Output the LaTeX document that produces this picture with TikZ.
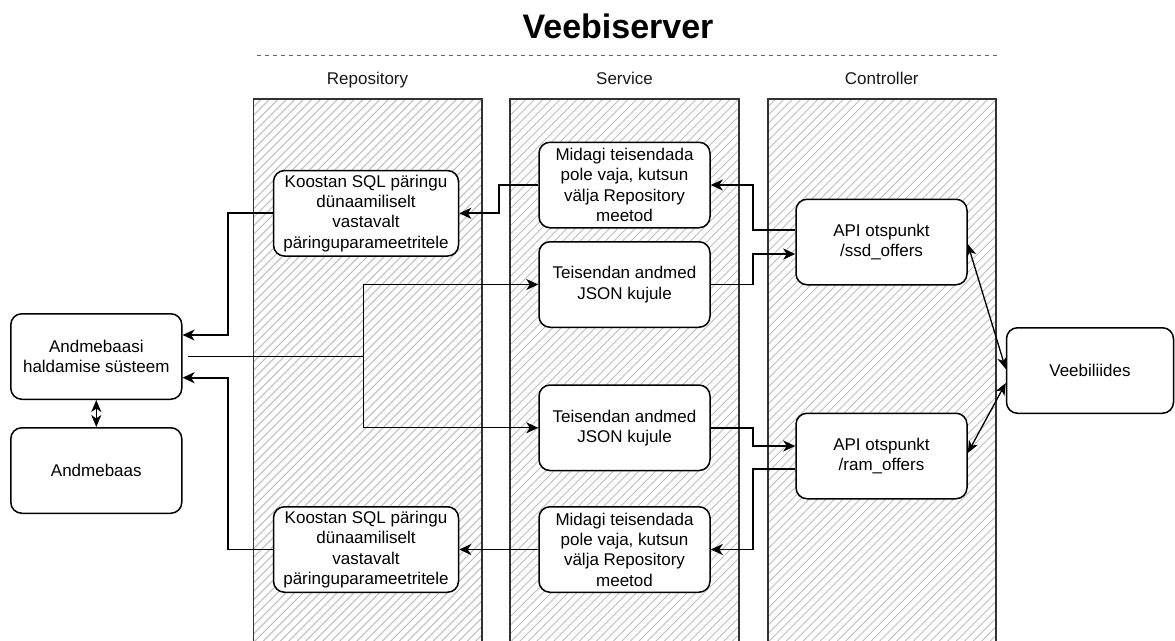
\documentclass[tikz,border=0pt]{standalone}
\usepackage{fontspec}
\setmainfont{Liberation Sans}
\usetikzlibrary{arrows.meta}
\begin{document}
\begin{tikzpicture}[x=1pt,y=-1pt,
  box/.style={draw, line width=1.5pt, rounded corners=11pt, fill=white, align=center, inner sep=0pt,
    minimum width=171pt, minimum height=85.5pt, font=\fontsize{17}{20.3}\selectfont},
  wbox/.style={box, minimum width=185pt},
  conn/.style={line width=1.9pt, -{Stealth[length=12pt,width=11pt,inset=3.5pt]}},
  biarrow/.style={line width=1.3pt, {Stealth[length=12pt,width=10pt,inset=3.5pt]}-{Stealth[length=12pt,width=10pt,inset=3.5pt]}},
  lane/.style={draw=black!80, line width=1.6pt},
  hatch/.style={draw=black!25, line width=1pt},
  lanelabel/.style={anchor=base, font=\fontsize{17}{20.3}\selectfont, text=black!90}]
\clip (0,0) rectangle (1175,640);
\fill[white] (0,0) rectangle (1175,640);

% title
\node[anchor=base, font=\fontsize{34}{40}\bfseries\selectfont] (title) at (618,38.3) {Veebiserver};
\draw[black!60, line width=1pt, dash pattern=on 4pt off 4pt] (257,55.7) -- (999,55.7);

% lanes
\foreach \xa/\xb in {253.3/481.7, 510/739, 767.7/996}{
  \begin{scope}
    \clip (\xa,99) rectangle (\xb,660);
    \foreach \i in {0,...,100}
      \draw[hatch] ({\xa-570+8.5*\i},660) -- ++(570,-570);
  \end{scope}
  \draw[lane] (\xa,99) rectangle (\xb,700);
}
\node[lanelabel] (lrep) at (367.5,84) {Repository};
\node[lanelabel] (lser) at (624.5,84) {Service};
\node[lanelabel] (lcon) at (881.8,84) {Controller};

% boxes
\node[box] (dbms) at (96.3,356.5) {Andmebaasi\\haldamise süsteem};
\node[box] (db) at (96.3,470.5) {Andmebaas};
\node[wbox] (k1) at (366,213.3) {Koostan SQL päringu\\dünaamiliselt\\vastavalt\\päringuparameetritele};
\node[wbox] (k2) at (366,549.5) {Koostan SQL päringu\\dünaamiliselt\\vastavalt\\päringuparameetritele};
\node[box] (m1) at (624.5,185) {Midagi teisendada\\pole vaja, kutsun\\välja Repository\\meetod};
\node[box] (t1) at (624.5,284.5) {Teisendan andmed\\JSON kujule};
\node[box] (t2) at (624.5,427.8) {Teisendan andmed\\JSON kujule};
\node[box] (m2) at (624.5,549.5) {Midagi teisendada\\pole vaja, kutsun\\välja Repository\\meetod};
\node[box] (ssd) at (881.5,242) {API otspunkt\\/ssd\_offers};
\node[box] (ram) at (881.5,456) {API otspunkt\\/ram\_offers};
\node[box, minimum width=167pt] (vb) at (1090,370.5) {Veebiliides};

% connectors
\draw[conn] (k1.west) -| (228.3,274) |- ([yshift=21.5pt]dbms.east);
\draw[conn] (k2.west) -| (228.3,460) |- ([yshift=-21.2pt]dbms.east);
\draw[conn, line width=1.2pt] ([xshift=5pt]dbms.east) -| (363.3,300) |- (t1.west);
\draw[conn, line width=1.2pt] ([xshift=5pt]dbms.east) -| (363.3,400) |- (t2.west);
\draw[conn] (m1.west) -| (498.7,200) |- (k1.east);
\draw[conn] (m2.west) -- (k2.east);
\draw[conn] ([yshift=12pt]ssd.west) -| (753.4,210) |- (m1.east);
\draw[conn] (t1.east) -| (753.4,270) |- ([yshift=-12pt]ssd.west);
\draw[conn] (t2.east) -| (753.4,437) |- ([yshift=10pt]ram.west);
\draw[conn] ([yshift=-13.3pt]ram.west) -| (753.4,500) |- (m2.east);
\draw[biarrow] ([yshift=-2pt]ssd.east) -- ([yshift=1.5pt]vb.west);
\draw[biarrow] ([yshift=3pt]ram.east) -- ([yshift=-12.5pt]vb.west);
\draw[biarrow, line width=1.6pt] (dbms.south) -- (db.north);
\end{tikzpicture}
\end{document}
